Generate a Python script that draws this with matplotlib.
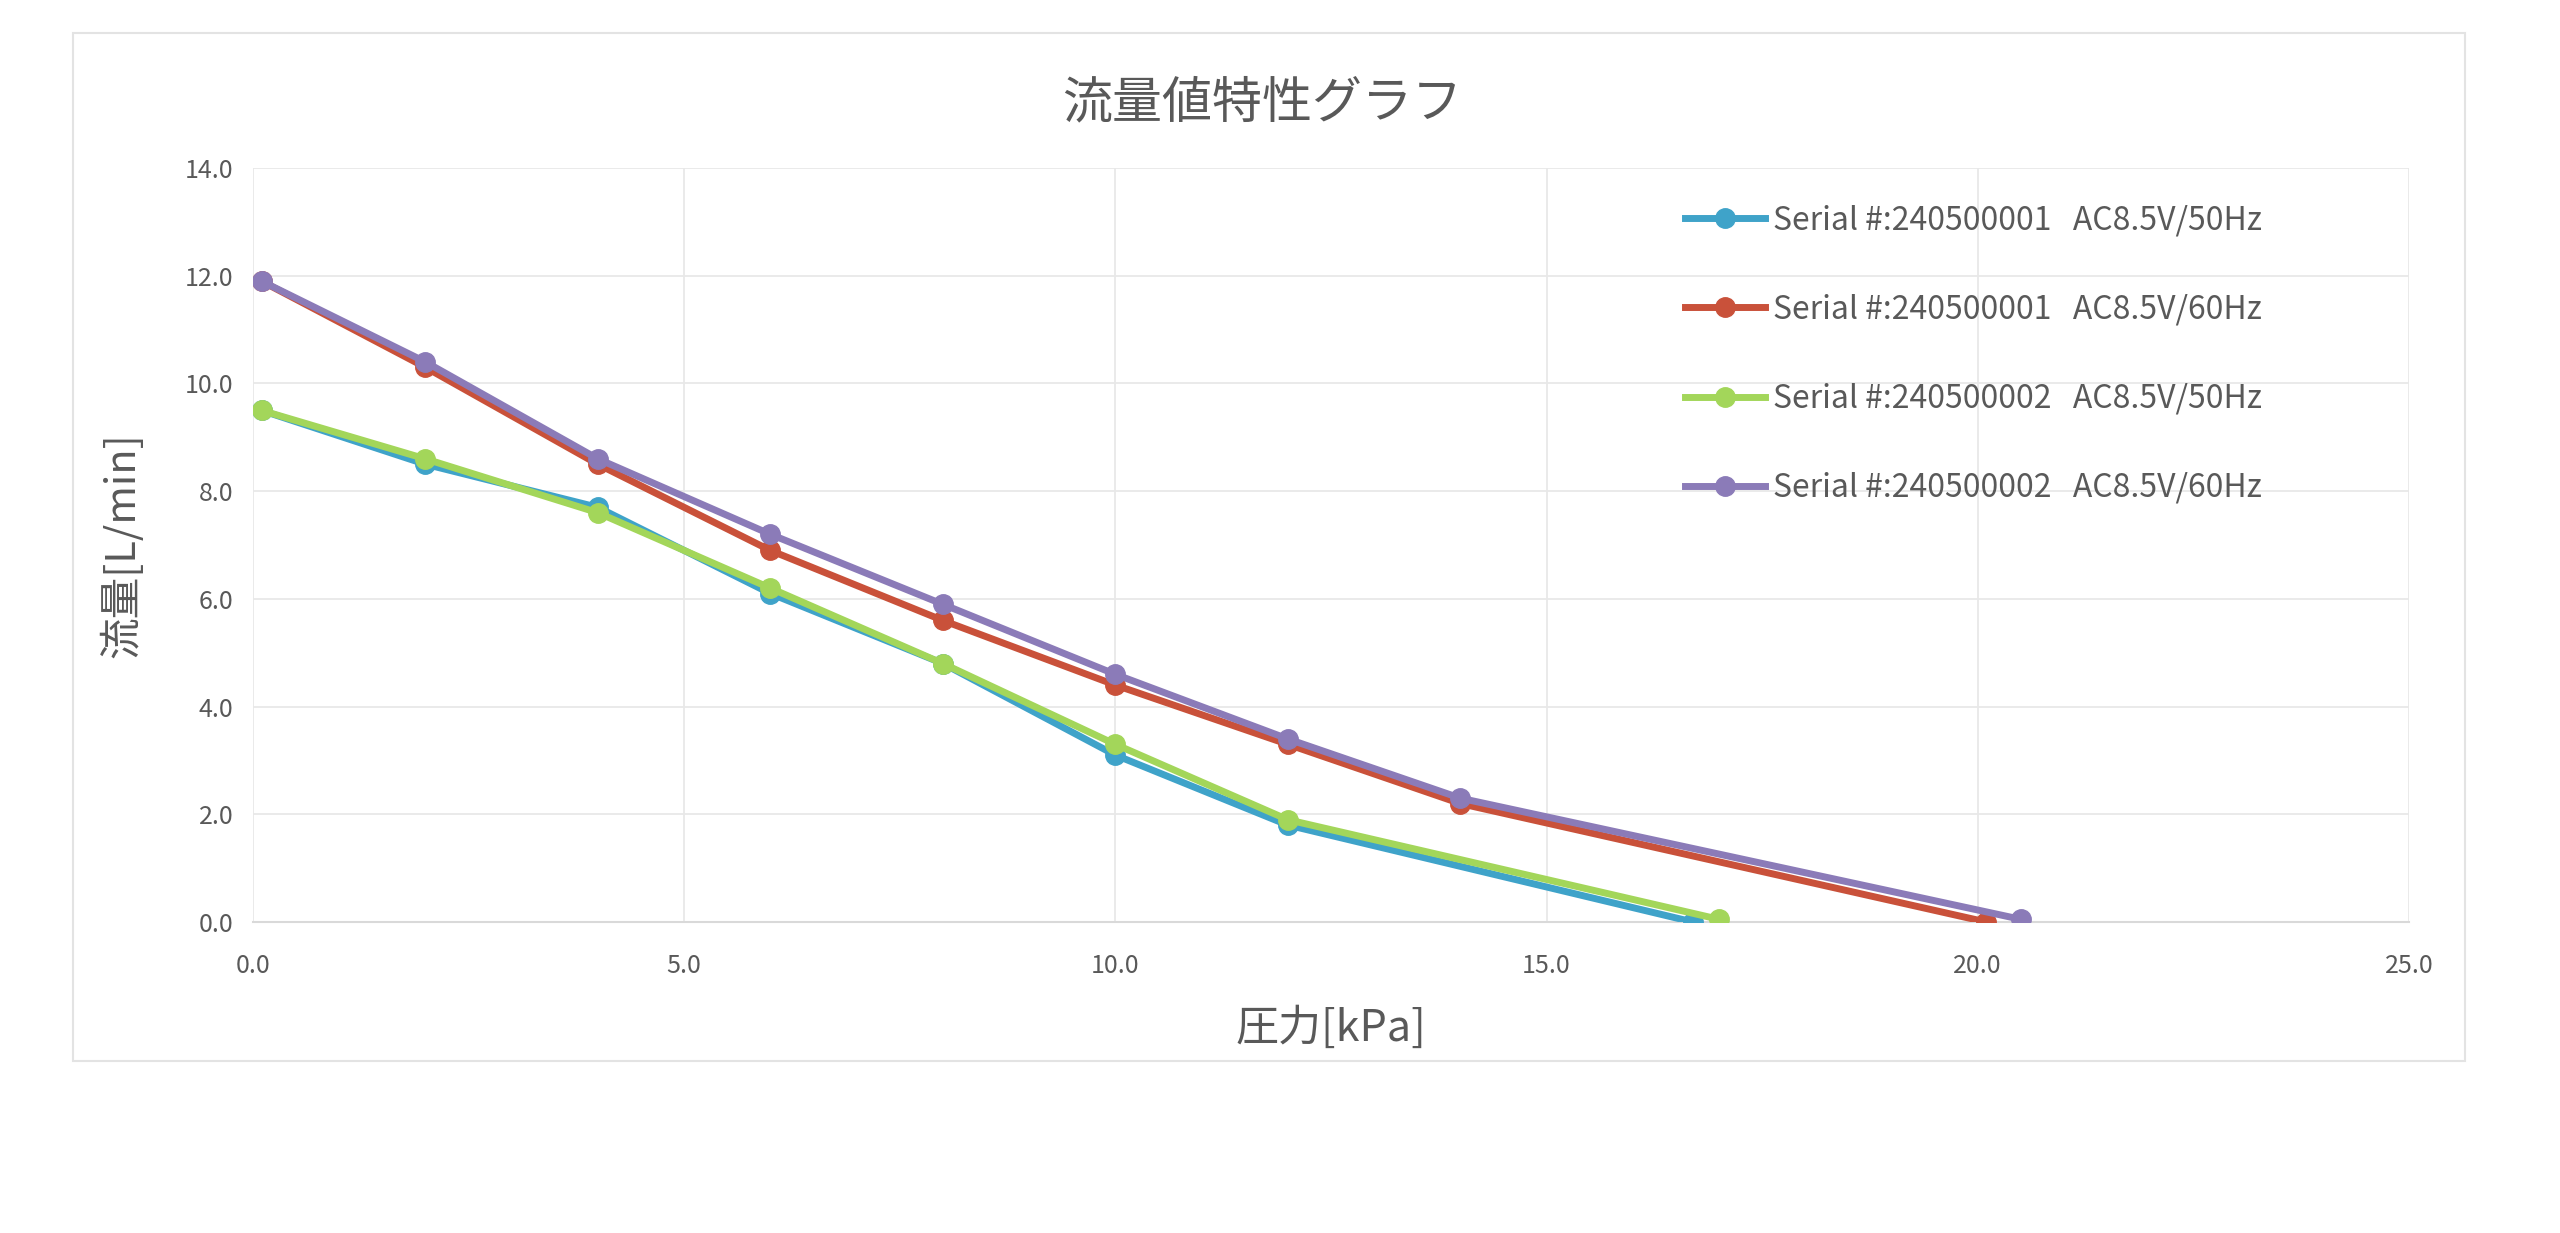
import matplotlib
matplotlib.use("Agg")
import matplotlib.pyplot as plt
from matplotlib.patches import Rectangle

plt.rcParams['font.family'] = ['Noto Sans CJK JP', 'DejaVu Sans']

title = "流量値特性グラフ"
xlabel = "圧力[kPa]"
ylabel = "流量[L/min]"

labels = [
    "Serial #:240500001   AC8.5V/50Hz",
    "Serial #:240500001   AC8.5V/60Hz",
    "Serial #:240500002   AC8.5V/50Hz",
    "Serial #:240500002   AC8.5V/60Hz",
]
colors = ['#3FA3C9', '#C9513A', '#A3D65A', '#8B7BB8']

s1_50_x = [0.1, 2.0, 4.0, 6.0, 8.0, 10.0, 12.0, 16.7]
s1_50_y = [9.5, 8.5, 7.7, 6.1, 4.8, 3.1, 1.8, 0.0]

s1_60_x = [0.1, 2.0, 4.0, 6.0, 8.0, 10.0, 12.0, 14.0, 20.1]
s1_60_y = [11.9, 10.3, 8.5, 6.9, 5.6, 4.4, 3.3, 2.2, 0.0]

s2_50_x = [0.1, 2.0, 4.0, 6.0, 8.0, 10.0, 12.0, 17.0]
s2_50_y = [9.5, 8.6, 7.6, 6.2, 4.8, 3.3, 1.9, 0.05]

s2_60_x = [0.1, 2.0, 4.0, 6.0, 8.0, 10.0, 12.0, 14.0, 20.5]
s2_60_y = [11.9, 10.4, 8.6, 7.2, 5.9, 4.6, 3.4, 2.3, 0.05]

xticks = [0.0, 5.0, 10.0, 15.0, 20.0, 25.0]
yticks = [0.0, 2.0, 4.0, 6.0, 8.0, 10.0, 12.0, 14.0]

series = [(s1_50_x, s1_50_y), (s1_60_x, s1_60_y), (s2_50_x, s2_50_y), (s2_60_x, s2_60_y)]

fig = plt.figure(figsize=(25.6, 12.33), dpi=100)
fig.patch.set_facecolor('white')
fig.patches.append(Rectangle((0.0285, 0.1395), 0.9345, 0.8335, transform=fig.transFigure,
                             fill=False, edgecolor='#E3E3E3', linewidth=1.5, figure=fig))

ax = fig.add_axes([0.0988, 0.2522, 0.8422, 0.6115])
text_color = '#595959'

for (xs, ys), lab, c in zip(series, labels, colors):
    ax.plot(xs, ys, color=c, linewidth=5, marker='o', markersize=14,
            markeredgecolor=c, label=lab, solid_joinstyle='round', zorder=3)

ax.set_xlim(0, 25)
ax.set_ylim(0, 14)
ax.set_xticks(xticks)
ax.set_yticks(yticks)
ax.set_xticklabels([f"{v:.1f}" for v in xticks])
ax.set_yticklabels([f"{v:.1f}" for v in yticks])
ax.tick_params(axis='both', length=0, labelsize=18, labelcolor=text_color)
ax.tick_params(axis='x', pad=22)
ax.tick_params(axis='y', pad=14)
ax.grid(True, color='#E8E8E8', linewidth=1.3)
ax.set_axisbelow(True)
for side in ['top', 'right', 'left']:
    ax.spines[side].set_visible(False)
ax.spines['bottom'].set_color('#D9D9D9')
ax.spines['bottom'].set_linewidth(1.5)

ax.set_xlabel(xlabel, fontsize=31, color=text_color, labelpad=20)
ax.set_ylabel(ylabel, fontsize=30, color=text_color, labelpad=30)
fig.text(0.493, 0.916, title, fontsize=36, color=text_color, ha='center', va='center')

leg = ax.legend(loc='upper left', bbox_to_anchor=(0.651, 0.99), frameon=False,
                fontsize=23, labelspacing=1.79, handlelength=2.5, handletextpad=0.25,
                labelcolor=text_color)

fig.savefig('out.png', dpi=100, facecolor='white')
